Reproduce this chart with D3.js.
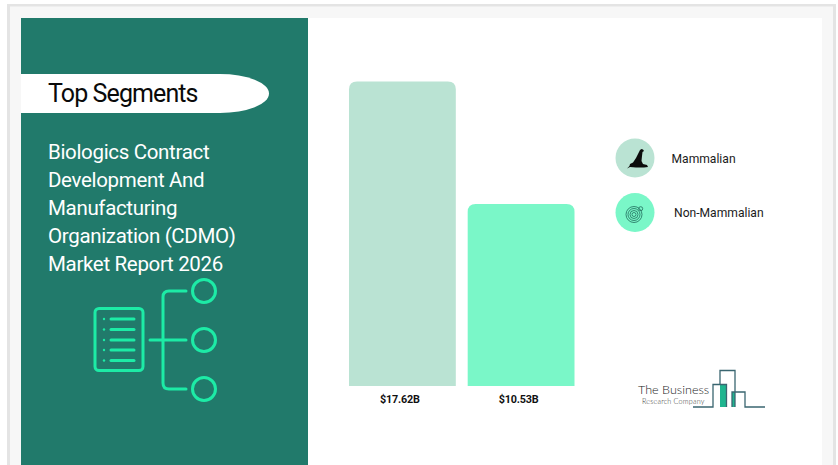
<!DOCTYPE html>
<html>
<head>
<meta charset="utf-8">
<script src="https://cdn.jsdelivr.net/npm/d3@7"></script>
<style>
  html, body { margin: 0; padding: 0; background: #fff; overflow: hidden; }
  text { font-family: Roboto, sans-serif; }
</style>
</head>
<body>
<div id="chart"></div>
<script>
const categories = ["Mammalian", "Non-Mammalian"]
const values = [17.62, 10.53]
const valueLabels = ["$17.62B", "$10.53B"]
const barColours = ["#bae3d3", "#7af7c8"]
const titleLines = [
  "Biologics Contract",
  "Development And",
  "Manufacturing",
  "Organization (CDMO)",
  "Market Report 2026"
]

const width = 838
const height = 465
const teal = "#217a6b"
const mint = "#1deba6"

let svg = d3.select("#chart").append("svg")
  .attr("width", width)
  .attr("height", height)
  .style("display", "block")

// page frame
svg.append("rect").attr("width", width).attr("height", height).attr("fill", "#fff")
svg.append("rect").attr("x", 7).attr("y", 4).attr("width", 829).attr("height", 470).attr("fill", "#e4e4e4")
svg.append("rect").attr("x", 10).attr("y", 6.5).attr("width", 823).attr("height", 470).attr("fill", "#f7f7f7")
svg.append("rect").attr("x", 21).attr("y", 18).attr("width", 801).attr("height", 460).attr("fill", "#fff")

// left panel
svg.append("rect").attr("x", 21).attr("y", 18).attr("width", 287).attr("height", 460).attr("fill", teal)

svg.append("path")
  .attr("d", "M21,74 H220 A49,19.5 0 0 1 220,113 H21 Z")
  .attr("fill", "#fff")

svg.append("text")
  .attr("x", 48).attr("y", 102)
  .style("font-size", "25px")
  .style("letter-spacing", "-0.9px")
  .attr("fill", "#0a0a0a")
  .text("Top Segments")

svg.selectAll("text.titleLine")
  .data(titleLines)
  .enter()
  .append("text")
  .attr("class", "titleLine")
  .attr("x", 48)
  .attr("y", (d, i) => 159 + i * 27.9)
  .style("font-size", "20.5px")
  .style("letter-spacing", "-0.33px")
  .attr("fill", "#fff")
  .text(d => d)

// tree icon
let icon = svg.append("g")
  .attr("fill", "none")
  .attr("stroke", mint)
  .attr("stroke-width", 3)
  .attr("stroke-linecap", "round")

icon.append("rect")
  .attr("x", 95).attr("y", 308.5)
  .attr("width", 48).attr("height", 62)
  .attr("rx", 4)

const docRows = [319, 329.5, 340, 350, 360.5]
icon.selectAll("line.row")
  .data(docRows)
  .enter()
  .append("line")
  .attr("class", "row")
  .attr("x1", 111).attr("x2", 134)
  .attr("y1", d => d).attr("y2", d => d)
icon.selectAll("circle.dot")
  .data(docRows)
  .enter()
  .append("circle")
  .attr("class", "dot")
  .attr("cx", 104).attr("cy", d => d).attr("r", 1.2)
  .attr("fill", mint).attr("stroke", "none")

icon.append("path").attr("d", "M186,291 H169 Q163,291 163,297 V383 Q163,389 169,389 H186")
icon.append("line").attr("x1", 150).attr("x2", 186).attr("y1", 340).attr("y2", 340)
icon.selectAll("circle.node")
  .data([291, 340, 389])
  .enter()
  .append("circle")
  .attr("class", "node")
  .attr("cx", 204).attr("cy", d => d).attr("r", 11.5)

// bars
let x = d3.scaleBand()
  .domain(categories)
  .range([349, 574.5])
  .paddingInner(0.1)

let y = d3.scaleLinear()
  .domain([0, 17.62])
  .range([386, 81.5])

const topRounded = function(d, i) {
  const r = 8
  const x0 = x(categories[i])
  const x1 = x0 + x.bandwidth()
  const path = d3.path()
  path.moveTo(x0, y(0))
  path.lineTo(x0, y(d) + r)
  path.quadraticCurveTo(x0, y(d), x0 + r, y(d))
  path.lineTo(x1 - r, y(d))
  path.quadraticCurveTo(x1, y(d), x1, y(d) + r)
  path.lineTo(x1, y(0))
  path.closePath()
  return path.toString()
}

svg.selectAll("path.bar")
  .data(values)
  .enter()
  .append("path")
  .attr("class", "bar")
  .attr("d", topRounded)
  .attr("fill", (d, i) => barColours[i])

svg.selectAll("text.valueLabel")
  .data(valueLabels)
  .enter()
  .append("text")
  .attr("class", "valueLabel")
  .attr("x", (d, i) => x(categories[i]) + x.bandwidth() / 2 - 2.5)
  .attr("y", 402.5)
  .style("text-anchor", "middle")
  .style("font-size", "10.8px")
  .style("letter-spacing", "-0.2px")
  .style("font-weight", 700)
  .attr("fill", "#111")
  .text(d => d)

// legend
const legendY = [158, 212.5]
const legendTextX = [671.5, 674]

svg.selectAll("circle.swatch")
  .data(categories)
  .enter()
  .append("circle")
  .attr("class", "swatch")
  .attr("cx", 635)
  .attr("cy", (d, i) => legendY[i])
  .attr("r", 19.5)
  .attr("fill", (d, i) => barColours[i])

svg.selectAll("text.legendLabel")
  .data(categories)
  .enter()
  .append("text")
  .attr("class", "legendLabel")
  .attr("x", (d, i) => legendTextX[i])
  .attr("y", (d, i) => legendY[i] + 4.5)
  .style("font-size", "12.1px")
  .attr("fill", "#1a1a1a")
  .text(d => d)

// giraffe glyph
svg.append("path")
  .attr("d", "M627,168.5 L629.5,166 L630,164 L633,162.5 L636,158 L638.5,153 L640,150 L641.5,149 L643,149.5 L644,151 L642.5,152 L642,156 L641.5,161 L643,164 L647,165 L648,167 L644,167.5 L636,167.5 L630,167 Z")
  .attr("fill", "#0c0c0c")

// round glyph
let glyph = svg.append("g")
  .attr("fill", "none")
  .attr("stroke", "#1f6b5c")
  .attr("stroke-width", 0.8)
glyph.selectAll("circle")
  .data([8, 6, 4, 2])
  .enter()
  .append("circle")
  .attr("cx", 634).attr("cy", 214.5).attr("r", d => d)
glyph.append("circle").attr("cx", 640.7).attr("cy", 208.7).attr("r", 2)

// company logo
svg.append("text")
  .attr("x", 638).attr("y", 393.6)
  .style("font-size", "12.6px")
  .style("font-family", "Lato, sans-serif")
  .style("font-weight", 300)
  .attr("fill", "#222")
  .text("The Business")
svg.append("text")
  .attr("x", 642).attr("y", 404)
  .style("font-size", "7.2px")
  .style("letter-spacing", "0.2px")
  .style("font-family", "Lato, sans-serif")
  .style("font-weight", 300)
  .attr("fill", "#333")
  .text("Research Company")

svg.append("rect").attr("x", 720).attr("y", 384.5).attr("width", 6.5).attr("height", 22.5).attr("fill", "#1fb58f")
svg.append("rect").attr("x", 732).attr("y", 392).attr("width", 3).attr("height", 15).attr("fill", "#1fb58f")
svg.append("path")
  .attr("d", "M693,407 H713 V384.5 H726.5 V407 M720,384.5 V370.5 H735 V407 M732,407 V392 H745 V407 H765")
  .attr("fill", "none")
  .attr("stroke", "#3a6670")
  .attr("stroke-width", 1.3)
</script>
</body>
</html>
